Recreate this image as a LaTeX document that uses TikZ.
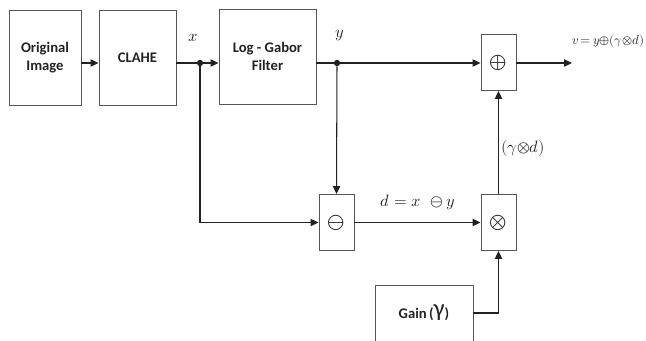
\documentclass[tikz,border=0pt]{standalone}
\usepackage{amsmath}
\usepackage{fontspec}
\usepackage{unicode-math}
\usepackage{xcolor}
\usepackage{tikz}
\usetikzlibrary{arrows.meta,calc}
\setmathfont{Latin Modern Math}
\newfontfamily\blockfont{Carlito}
\definecolor{ink}{HTML}{222222}
\definecolor{boxbd}{HTML}{555555}
\tikzset{
  block/.style={draw=boxbd,line width=0.8pt,align=center,inner sep=2pt,
                font=\blockfont\bfseries\fontsize{12.5}{15}\selectfont,text=ink},
  opbox/.style={draw=boxbd,line width=0.8pt,minimum width=35*0.3mm,
                minimum height=56*0.3mm,inner sep=0pt,
                font=\fontsize{19}{19}\selectfont,text=ink},
  flow/.style={-{Triangle[length=2.4mm,width=2.2mm]},line width=0.9pt,ink},
  wire/.style={line width=0.9pt,ink},
  junction/.style={circle,fill=ink,inner sep=0pt,minimum size=1.9mm},
  lbl/.style={font=\fontsize{14}{16}\selectfont,text=ink,inner sep=1pt},
}
\begin{document}
\begin{tikzpicture}[x=0.3mm,y=-0.3mm]
  \useasboundingbox (0,0) rectangle (646,341);

  % top row
  \node[block,minimum width=72*0.3mm,minimum height=95*0.3mm] (orig) at (45,57.5) {Original\\Image};
  \node[block,minimum width=77*0.3mm,minimum height=95*0.3mm] (clahe) at (137.5,57.5) {CLAHE};
  \node[block,minimum width=97*0.3mm,minimum height=95*0.3mm] (gabor) at (267.5,56.5) {Log - Gabor\\Filter};
  \node[opbox] (plus) at (498.5,62.5) {$\oplus$};

  % bottom row
  \node[opbox] (minus) at (336.5,222.5) {$\ominus$};
  \node[opbox] (times) at (498.5,222.5) {$\otimes$};
  \node[block,minimum width=98*0.3mm,minimum height=56*0.3mm] (gain) at (424,313)
    {Gain\,(\raisebox{1pt}{\fontsize{21}{21}\selectfont\mdseries γ})};

  % branch points
  \node[junction] (xdot) at (200,63) {};
  \node[junction] (ydot) at (337,63) {};
  \coordinate (vout) at (572,63);

  % connectors
  \draw[flow] (orig.east |- xdot) -- (clahe.west |- xdot);
  \draw[wire] (clahe.east |- xdot) -- (xdot);
  \draw[flow] (xdot) -- (gabor.west |- xdot);
  \draw[wire] (gabor.east |- ydot) -- (ydot);
  \draw[flow] (ydot) -- (plus.west |- ydot);
  \draw[flow] (plus.east |- ydot) -- (vout);
  \draw[flow] (ydot) -- (minus.north);
  \draw[flow] (xdot) |- (minus.west);
  \draw[flow] (minus.east) -- (times.west);
  \draw[flow] (times.north) -- (plus.south);
  \draw[flow] (gain.east) -| (times.south);

  % labels
  \node[lbl] (xlbl) at (193,38) {$x$};
  \node[lbl] (ylbl) at (340,36) {$y$};
  \node[lbl,anchor=west,font=\fontsize{11}{13}\selectfont] (vlbl) at (571,41)
    {$v\,{=}\,y{\oplus}(\gamma{\otimes}d)$};
  \node[lbl] (dlbl) at (418,202) {$d = x\ \ominus y$};
  \node[lbl,anchor=west] (glbl) at (500,148) {$(\gamma{\otimes} d)$};
\end{tikzpicture}
\end{document}
